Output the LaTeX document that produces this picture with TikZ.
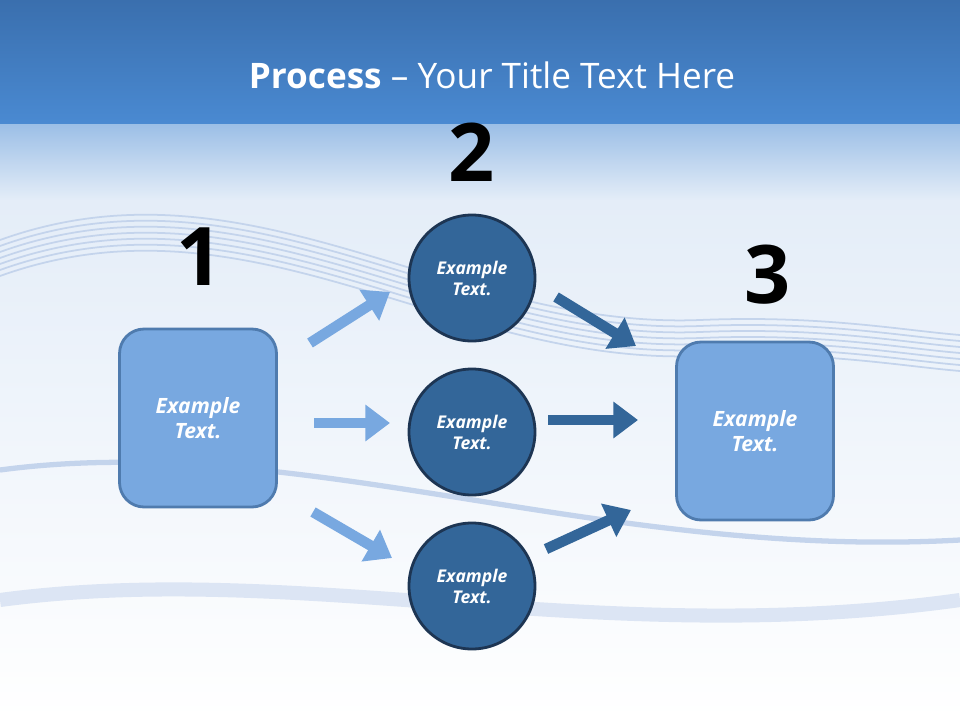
\documentclass[tikz,border=0pt]{standalone}
\usepackage{fontspec}
\setmainfont{Open Sans}
\usetikzlibrary{arrows.meta}
\definecolor{bandblue}{HTML}{4A8AD2}
\definecolor{bandtop}{HTML}{3A6FAE}
\definecolor{paleblue}{HTML}{E4EDF8}
\definecolor{boxfill}{HTML}{78A8E0}
\definecolor{boxline}{HTML}{4F7BAE}
\definecolor{circfill}{HTML}{336699}
\definecolor{circline}{HTML}{1D3553}
\definecolor{wave}{HTML}{C4D4EC}
\tikzset{
  stagebox/.style={draw=boxline, line width=1.6pt, fill=boxfill, rounded corners=14pt,
    minimum width=157\pxu, minimum height=178\pxu, text=white, font=\large\bfseries\itshape, align=center},
  stagecirc/.style={circle, draw=circline, line width=1.6pt, fill=circfill, minimum size=126\pxu,
    text=white, font=\bfseries\itshape, align=center},
  stagenum/.style={font=\fontsize{46}{46}\selectfont\bfseries},
  lightarrow/.style={line width=6pt, draw=boxfill, -{Triangle[length=14pt,width=20pt]}},
  darkarrow/.style={line width=6pt, draw=circfill, -{Triangle[length=14pt,width=20pt]}}
}
\newcommand{\pxu}{*0.02cm}
\begin{document}
\begin{tikzpicture}[x=0.02cm, y=-0.02cm]
  \useasboundingbox (0,0) rectangle (960,720);
  % background
  \fill[top color=bandtop, bottom color=bandblue] (0,0) rectangle (960,125);
  \fill[top color=bandblue!55!white, bottom color=paleblue] (0,124) rectangle (960,200);
  \fill[top color=paleblue, bottom color=white] (0,200) rectangle (960,720);
  \foreach \d in {0,6,...,36}
    \draw[wave, line width=1pt] (0,240+\d) .. controls (250,150+\d) and (450,330+\d) .. (700,320+\d)
      .. controls (820,315+\d) and (900,330+\d) .. (960,335+\d);
  \draw[wave, line width=3pt] (0,470) .. controls (300,430) and (600,560) .. (960,540);
  \draw[wave!60, line width=8pt] (0,600) .. controls (300,560) and (600,650) .. (960,600);

  % title
  \node[text=white, font=\fontsize{20}{20}\selectfont] (title) at (492,75)
    {\textbf{Process} -- Your Title Text Here};

  % stages
  \node[stagebox] (left) at (198,418) {Example\\Text.};
  \node[stagebox] (right) at (755,431) {Example\\Text.};
  \node[stagecirc] (top) at (472,278) {Example\\Text.};
  \node[stagecirc] (mid) at (472,432) {Example\\Text.};
  \node[stagecirc] (bot) at (472,586) {Example\\Text.};

  \node[stagenum] (one) at (200,257) {1};
  \node[stagenum] (two) at (472,152) {2};
  \node[stagenum] (three) at (768,275) {3};

  % arrows
  \coordinate (la1) at (310,343); \coordinate (lb1) at (390,292);
  \coordinate (la2) at (314,423); \coordinate (lb2) at (390,423);
  \coordinate (la3) at (313,512); \coordinate (lb3) at (392,558);
  \coordinate (da1) at (556,297); \coordinate (db1) at (636,346);
  \coordinate (da2) at (548,420); \coordinate (db2) at (638,420);
  \coordinate (da3) at (546,549); \coordinate (db3) at (631,510);
  \draw[lightarrow] (la1) -- (lb1);
  \draw[lightarrow] (la2) -- (lb2);
  \draw[lightarrow] (la3) -- (lb3);
  \draw[darkarrow] (da1) -- (db1);
  \draw[darkarrow] (da2) -- (db2);
  \draw[darkarrow] (da3) -- (db3);
\end{tikzpicture}
\end{document}
